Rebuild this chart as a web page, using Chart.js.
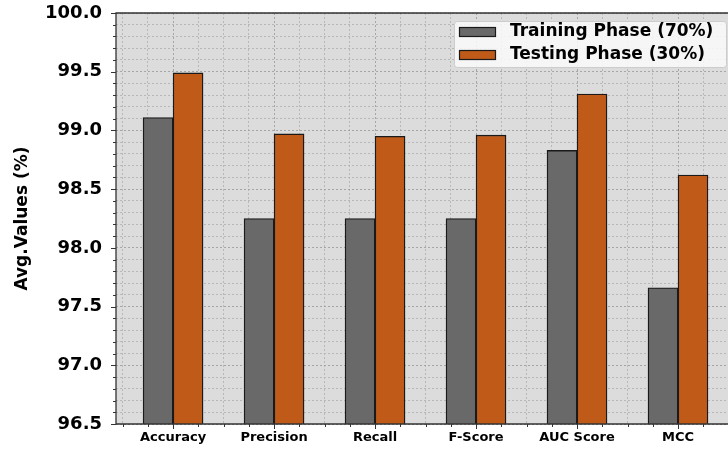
<!DOCTYPE html>
<html>
<head>
<meta charset="utf-8">
<script src="https://cdn.jsdelivr.net/npm/chart.js@4/dist/chart.umd.min.js"></script>
<style>
  html, body { margin: 0; padding: 0; background: #ffffff; overflow: hidden; }
  #wrap { width: 728px; height: 450px; position: relative; }
</style>
</head>
<body>
<div id="wrap"><canvas id="chart" width="728" height="450"></canvas></div>
<script>
// Metrics compared across the two phases
const categories = ['Accuracy', 'Precision', 'Recall', 'F-Score', 'AUC Score', 'MCC'];
const trainingValues = [99.11, 98.25, 98.25, 98.25, 98.83, 97.66];
const testingValues = [99.49, 98.97, 98.95, 98.96, 99.31, 98.62];
const seriesLabels = ['Training Phase (70%)', 'Testing Phase (30%)'];
const yMajorTicks = [96.5, 97.0, 97.5, 98.0, 98.5, 99.0, 99.5, 100.0];
const yAxisTitle = 'Avg.Values (%)';

const FONT = "'DejaVu Sans', 'Liberation Sans', sans-serif";
const TRAIN_COLOR = '#696969';
const TEST_COLOR = '#bf5a18';

const isMajorY = v => yMajorTicks.some(t => Math.abs(t - v) < 1e-6);
const isMajorX = v => Math.abs(v - Math.round(v)) < 1e-6;

// Plot background, frame, outward tick marks and the legend box
const framePlugin = {
  id: 'frame',
  beforeDraw(chart) {
    const { ctx, chartArea: a } = chart;
    ctx.save();
    ctx.fillStyle = '#dcdcdc';
    ctx.fillRect(a.left, a.top, a.right - a.left, a.bottom - a.top);
    ctx.restore();
  },
  afterDraw(chart) {
    const { ctx, chartArea: a, scales } = chart;
    ctx.save();
    ctx.strokeStyle = '#333333';
    ctx.lineWidth = 1.3;
    // spines
    ctx.beginPath();
    ctx.moveTo(a.right + 2, a.top);
    ctx.lineTo(a.left, a.top);
    ctx.lineTo(a.left, a.bottom);
    ctx.lineTo(a.right + 2, a.bottom);
    ctx.stroke();
    // tick marks
    ctx.lineWidth = 1;
    ctx.beginPath();
    scales.y.ticks.forEach(t => {
      const py = Math.round(scales.y.getPixelForValue(t.value)) + 0.5;
      const len = isMajorY(t.value) ? 5 : 3;
      ctx.moveTo(a.left, py);
      ctx.lineTo(a.left - len, py);
    });
    scales.x.ticks.forEach(t => {
      const px = Math.round(scales.x.getPixelForValue(t.value)) + 0.5;
      const len = isMajorX(t.value) ? 5 : 3;
      ctx.moveTo(px, a.bottom);
      ctx.lineTo(px, a.bottom + len);
    });
    ctx.stroke();

    // legend
    const bx = 454, by = 21, bw = 272, bh = 46;
    ctx.fillStyle = 'rgba(250,250,250,0.85)';
    ctx.strokeStyle = '#cccccc';
    ctx.lineWidth = 1;
    ctx.beginPath();
    ctx.roundRect(bx + 0.5, by + 0.5, bw, bh, 3);
    ctx.fill();
    ctx.stroke();
    ctx.font = 'bold 17px ' + FONT;
    ctx.textBaseline = 'middle';
    ctx.textAlign = 'left';
    chart.data.datasets.forEach((ds, i) => {
      const cy = 32 + i * 23;
      ctx.fillStyle = ds.backgroundColor;
      ctx.fillRect(459, cy - 5, 37, 10);
      ctx.strokeStyle = '#1a1a1a';
      ctx.lineWidth = 1.2;
      ctx.strokeRect(459.5, cy - 4.5, 36, 9);
      ctx.fillStyle = '#000000';
      ctx.fillText(ds.label, 510, cy);
    });
    ctx.restore();
  }
};

const gridColorX = ctx => (ctx.tick && isMajorX(ctx.tick.value) ? 'rgba(160,160,160,0.9)' : 'rgba(178,178,178,0.85)');
const gridColorY = ctx => (ctx.tick && isMajorY(ctx.tick.value) ? 'rgba(160,160,160,0.9)' : 'rgba(178,178,178,0.85)');

new Chart(document.getElementById('chart'), {
  type: 'bar',
  data: {
    datasets: [
      {
        label: seriesLabels[0],
        data: trainingValues.map((v, i) => ({ x: i, y: v })),
        backgroundColor: TRAIN_COLOR,
        borderColor: '#1a1a1a',
        borderWidth: 1.4,
        borderSkipped: 'start'
      },
      {
        label: seriesLabels[1],
        data: testingValues.map((v, i) => ({ x: i, y: v })),
        backgroundColor: TEST_COLOR,
        borderColor: '#1a1a1a',
        borderWidth: 1.4,
        borderSkipped: 'start'
      }
    ]
  },
  options: {
    responsive: false,
    animation: false,
    events: [],
    layout: { padding: { top: 13, left: 0, right: 0, bottom: 0 } },
    datasets: { bar: { barThickness: 30, barPercentage: 1.0 } },
    plugins: { legend: { display: false }, tooltip: { enabled: false } },
    scales: {
      x: {
        type: 'linear',
        offset: false,
        min: -0.565,
        max: 5.495,
        afterBuildTicks(scale) {
          const ticks = [];
          for (let k = -2; k <= 21; k++) ticks.push({ value: k / 4 });
          scale.ticks = ticks;
        },
        afterFit(scale) {
          scale.height = 26;
          scale.paddingLeft = 0;
          scale.paddingRight = 0;
        },
        ticks: {
          autoSkip: false,
          maxRotation: 0,
          padding: 6,
          color: '#000000',
          font: { family: FONT, size: 13, weight: 'bold' },
          callback: v => (isMajorX(v) ? categories[Math.round(v)] : '')
        },
        grid: { offset: false, drawTicks: false, color: gridColorX, lineWidth: 1 },
        border: { display: false, dash: [2, 2] }
      },
      y: {
        min: 96.5,
        max: 100,
        afterBuildTicks(scale) {
          const ticks = [];
          for (let k = 0; k <= 35; k++) ticks.push({ value: Math.round((96.5 + k / 10) * 10) / 10 });
          scale.ticks = ticks;
        },
        afterFit(scale) {
          scale.width = 116;
          scale.paddingTop = 0;
          scale.paddingBottom = 0;
        },
        ticks: {
          autoSkip: false,
          padding: 14,
          color: '#000000',
          font: { family: FONT, size: 18, weight: 'bold' },
          callback: v => (isMajorY(v) ? v.toFixed(1) : '')
        },
        grid: { drawTicks: false, color: gridColorY, lineWidth: 1 },
        border: { display: false, dash: [2, 2] },
        title: {
          display: true,
          text: yAxisTitle,
          color: '#000000',
          font: { family: FONT, size: 17, weight: 'bold' },
          padding: { top: 12, bottom: 0 }
        }
      }
    }
  },
  plugins: [framePlugin]
});
</script>
</body>
</html>
